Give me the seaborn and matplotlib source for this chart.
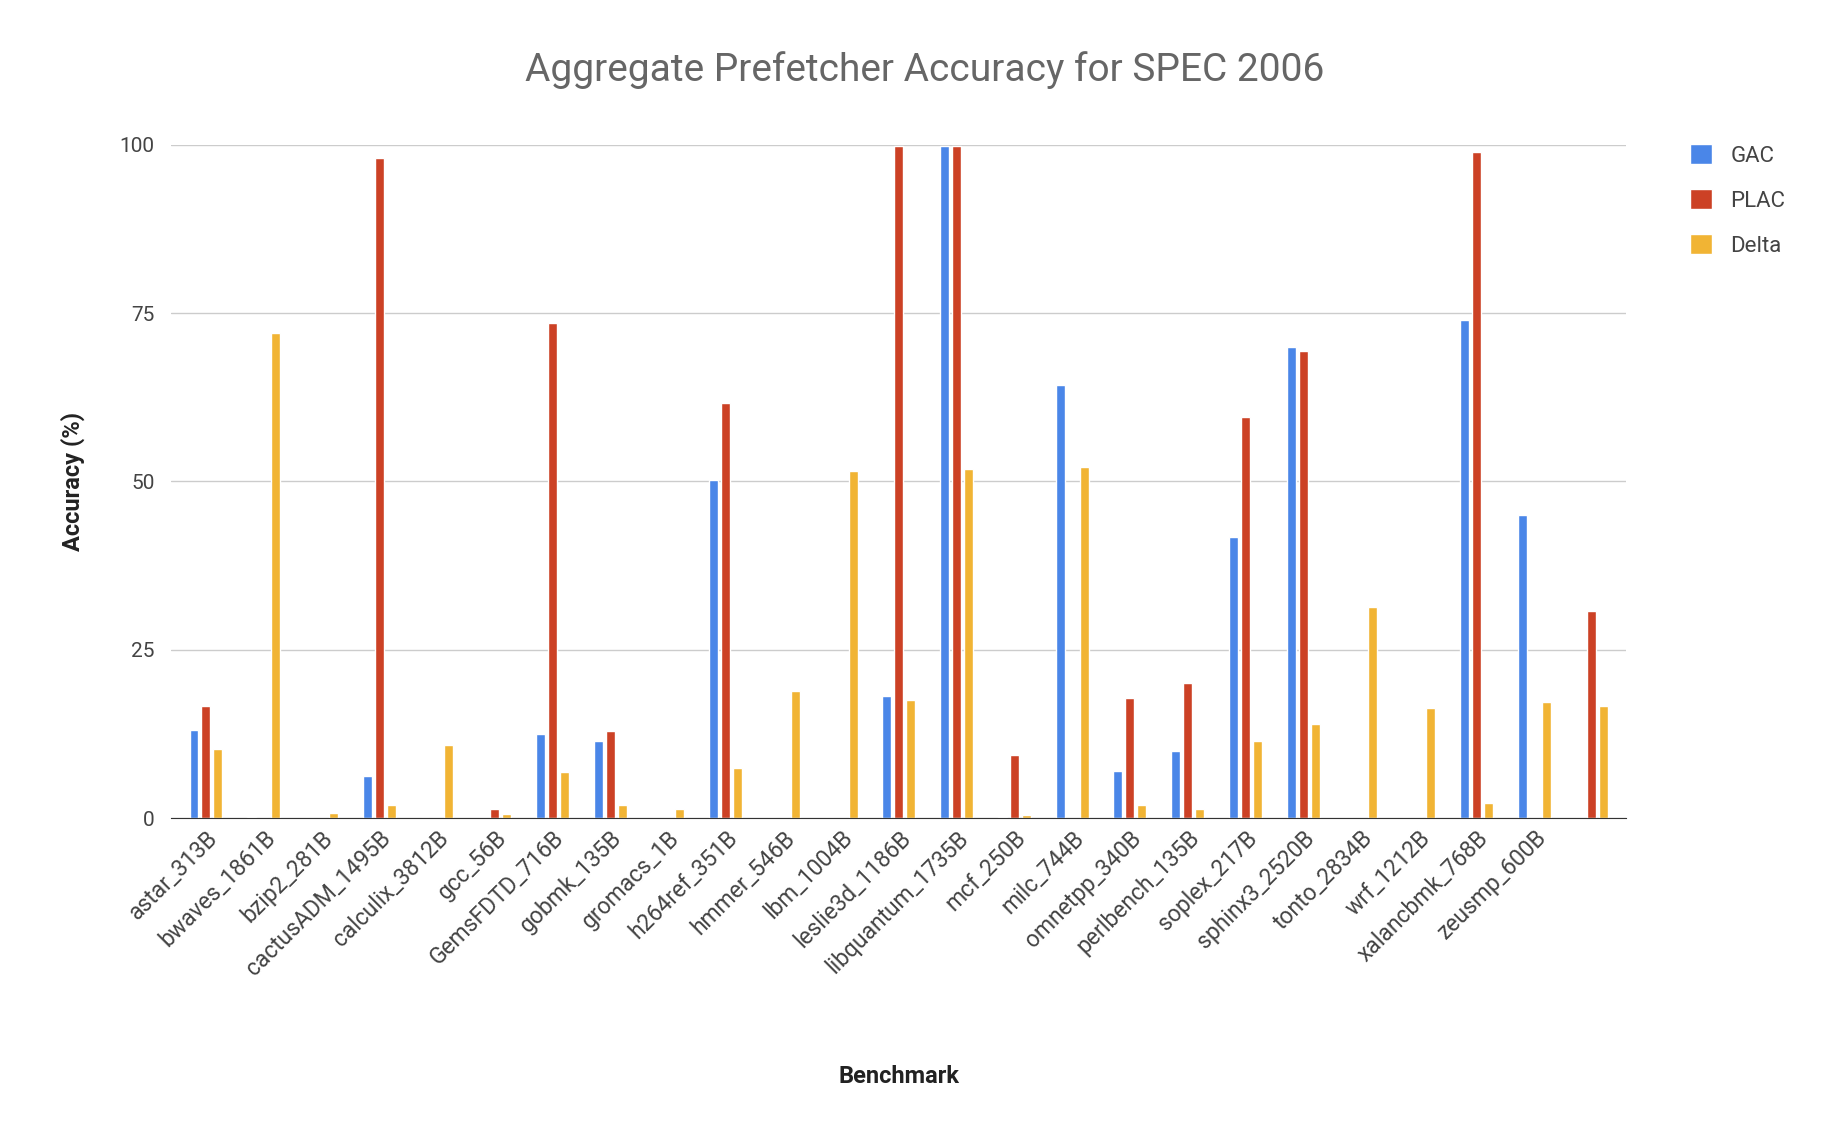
import matplotlib
matplotlib.use("Agg")
import matplotlib.pyplot as plt
import seaborn as sns
import pandas as pd

benchmarks = ["astar_313B","bwaves_1861B","bzip2_281B","cactusADM_1495B","calculix_3812B",
              "gcc_56B","GemsFDTD_716B","gobmk_135B","gromacs_1B","h264ref_351B","hmmer_546B",
              "lbm_1004B","leslie3d_1186B","libquantum_1735B","mcf_250B","milc_744B","omnetpp_340B",
              "perlbench_135B","soplex_217B","sphinx3_2520B","tonto_2834B","wrf_1212B",
              "xalancbmk_768B","zeusmp_600B",""]
gac   = [13.1,0.1,0,6.3,0,0,12.5,11.4,0,50.2,0,0,18.2,99.8,0.2,64.3,7.0,9.9,41.8,70.0,0,0,73.9,45.0,0]
plac  = [16.7,0,0,98.0,0,1.3,73.5,12.9,0,61.7,0,0,99.8,99.8,9.4,0,17.9,20.1,59.6,69.4,0,0,98.9,0,30.7]
delta = [10.2,72.1,0.7,1.9,10.8,0.6,6.9,1.9,1.3,7.5,18.9,51.6,17.6,51.9,0.4,52.1,1.9,1.3,11.4,14.0,31.3,16.4,2.2,17.3,16.7]
series = ["GAC","PLAC","Delta"]
colors = ["#4a86e8","#cc4125","#f1b434"]

keys = [f"{i:02d}" for i in range(len(benchmarks))]
df = pd.DataFrame({"key": keys*3, "Series": sum([[s]*len(keys) for s in series], []),
                   "val": gac+plac+delta})

sns.set_style("white")
plt.rcParams['font.family'] = ['Roboto', 'DejaVu Sans']
fig, ax = plt.subplots(figsize=(18.42, 11.30), dpi=100)
fig.subplots_adjust(left=0.093, right=0.883, top=0.872, bottom=0.276)
sns.barplot(data=df, x="key", y="val", hue="Series", palette=colors, ax=ax,
            width=0.62, gap=0.25, saturation=1)
ax.set_ylim(0, 100)
ax.set_yticks([0,25,50,75,100])
ax.yaxis.grid(True, color="#cccccc", lw=1)
ax.set_axisbelow(True)
for s in ["top","right","left"]:
    ax.spines[s].set_visible(False)
ax.spines["bottom"].set_color("#333333")
ax.tick_params(axis="y", length=0, labelsize=15, labelcolor="#444444", pad=12)
ax.set_xticks(range(len(benchmarks)))
ax.set_xticklabels(benchmarks, rotation=45, ha="right", rotation_mode="anchor",
                   fontsize=16.5, color="#444444")
ax.tick_params(axis="x", length=0, pad=6)
ax.set_xlim(-0.6, len(benchmarks)-0.4)
ax.set_xlabel("Benchmark", fontsize=17, fontweight="bold", color="#222222")
ax.xaxis.set_label_coords(0.5, -0.367)
ax.set_ylabel("Accuracy (%)", fontsize=17, fontweight="bold", color="#222222", labelpad=25)
fig.suptitle("Aggregate Prefetcher Accuracy for SPEC 2006", fontsize=28, color="#666666",
             x=0.502, y=0.955)
h, l = ax.get_legend_handles_labels()
ax.legend(h, l, loc="upper left", bbox_to_anchor=(1.03, 1.03), frameon=False,
          fontsize=16, handlelength=1.0, handleheight=1.0, labelspacing=1.0,
          labelcolor="#444444")
fig.savefig("out.png", dpi=100, facecolor="white")
